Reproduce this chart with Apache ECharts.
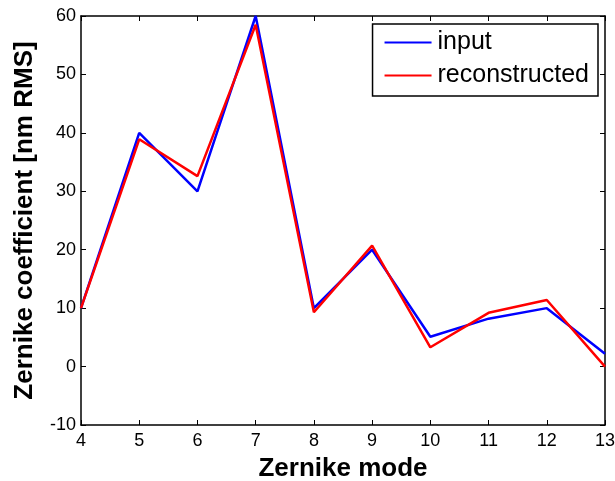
<!DOCTYPE html>
<html>
<head>
<meta charset="utf-8">
<script src="https://cdn.jsdelivr.net/npm/echarts@6/dist/echarts.min.js"></script>
<style>
  html, body { margin: 0; padding: 0; background: #fff; }
  #chart { width: 615px; height: 481px; }
</style>
</head>
<body>
<div id="chart"></div>
<script>
// data
const modes = [4, 5, 6, 7, 8, 9, 10, 11, 12, 13];
const inputValues = [10, 40, 30, 60, 10, 20, 5.1, 8.2, 10, 2.2];
const reconstructedValues = [10, 38.9, 32.6, 58.5, 9.3, 20.7, 3.3, 9.2, 11.4, 0];
const seriesNames = ['input', 'reconstructed'];

const chartDom = document.getElementById('chart');
const myChart = echarts.init(chartDom);

const font = 'Liberation Sans, Arial, sans-serif';
const axisLine = { show: true, onZero: false, lineStyle: { color: '#000', width: 1.5 } };
const axisTick = { show: true, inside: true, length: 5, lineStyle: { color: '#000', width: 1 } };

const toPairs = (vals) => modes.map((m, i) => [m, vals[i]]);

const option = {
    backgroundColor: '#fff',
    animation: false,
    grid: { left: 81, right: 10, top: 16, bottom: 56, outerBoundsMode: 'none', containLabel: false },
    legend: {
        orient: 'vertical',
        right: 17,
        top: 24,
        padding: [6, 9, 8, 12],
        itemGap: 8,
        itemWidth: 47,
        itemHeight: 2,
        borderColor: '#000',
        borderWidth: 1.5,
        backgroundColor: '#fff',
        textStyle: { fontFamily: font, fontSize: 25, color: '#000', padding: [0, 0, 0, 1] },
        data: seriesNames.map(n => ({ name: n, icon: 'rect' }))
    },
    xAxis: [
        {
            type: 'value', min: 4, max: 13, interval: 1,
            name: 'Zernike mode', nameLocation: 'middle', nameGap: 31,
            nameTextStyle: { fontFamily: font, fontSize: 26, fontWeight: 'bold', color: '#000' },
            axisLine, axisTick, splitLine: { show: false },
            axisLabel: { fontFamily: font, fontSize: 18, color: '#000', margin: 7 }
        },
        {
            type: 'value', position: 'top', min: 4, max: 13, interval: 1,
            axisLine, axisTick, splitLine: { show: false }, axisLabel: { show: false }
        }
    ],
    yAxis: [
        {
            type: 'value', min: -10, max: 60, interval: 10,
            name: 'Zernike coefficient [nm RMS]', nameLocation: 'middle', nameGap: 43,
            nameTextStyle: { fontFamily: font, fontSize: 26, fontWeight: 'bold', color: '#000' },
            axisLine, axisTick, splitLine: { show: false },
            axisLabel: { fontFamily: font, fontSize: 18, color: '#000', margin: 5 }
        },
        {
            type: 'value', position: 'right', min: -10, max: 60, interval: 10,
            axisLine, axisTick, splitLine: { show: false }, axisLabel: { show: false }
        }
    ],
    series: [
        {
            name: seriesNames[0], type: 'line', data: toPairs(inputValues),
            showSymbol: false, symbol: 'none',
            lineStyle: { color: '#0000ff', width: 2.5 }, itemStyle: { color: '#0000ff' }
        },
        {
            name: seriesNames[1], type: 'line', data: toPairs(reconstructedValues),
            showSymbol: false, symbol: 'none',
            lineStyle: { color: '#ff0000', width: 2.5 }, itemStyle: { color: '#ff0000' }
        }
    ]
};

option && myChart.setOption(option);
</script>
</body>
</html>
